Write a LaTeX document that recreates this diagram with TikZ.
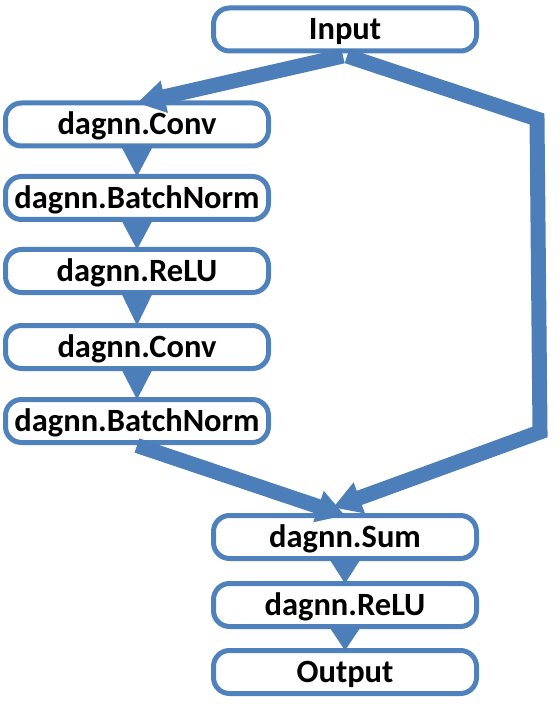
\documentclass[tikz,border=0pt]{standalone}
\usepackage{fontspec}
\setmainfont{Carlito}
\usetikzlibrary{arrows.meta,calc}
\definecolor{boxblue}{RGB}{79,129,189}
\definecolor{arrblue}{RGB}{76,126,186}
\begin{document}
\begin{tikzpicture}[x=1pt,y=-1pt,
  box/.style={draw=boxblue, line width=5pt, fill=white, rounded corners=16pt,
    minimum width=263pt, minimum height=43pt, inner sep=0pt, outer sep=0pt,
    text height=21pt, text depth=0pt,
    font=\fontsize{32.5}{36}\selectfont\bfseries},
  bigarrow/.style={draw=arrblue, line width=15pt, line join=miter,
    -{Triangle[length=28pt,width=31pt]}},
  tri/.style={fill=arrblue}]
\useasboundingbox (0,0) rectangle (559,708);
% nodes
\node[box] (in)    at (345,29.5) {Input};
\node[box] (conv1) at (137,124.5) {dagnn.Conv};
\node[box] (bn1)   at (137,198) {dagnn.BatchNorm};
\node[box] (relu1) at (137,271) {dagnn.ReLU};
\node[box] (conv2) at (137,347) {dagnn.Conv};
\node[box] (bn2)   at (137,421) {dagnn.BatchNorm};
\node[box] (sum)   at (345,537) {dagnn.Sum};
\node[box] (relu2) at (345,605) {dagnn.ReLU};
\node[box] (out)   at (345,672) {Output};
% small triangles
\foreach \a/\b in {conv1/bn1, bn1/relu1, relu1/conv2, conv2/bn2, sum/relu2, relu2/out}{
  \fill[tri] ($(\a.south)+(-16,0)$) -- ($(\a.south)+(16,0)$) -- (\b.north) -- cycle;
}
% corner coordinates of the skip path
\coordinate (c1) at (537,119);
\coordinate (c2) at (540,432);
% big arrows
\draw[bigarrow] ($(in.south)+(-2,5)$) -- (conv1.north);
\draw[bigarrow] ($(in.south)+(2,5)$) -- (c1) -- (c2) -- ($(sum.north)+(-12,-8)$);
\draw[bigarrow] ($(bn2.south)+(0,3)$) -- (sum.north);
\end{tikzpicture}
\end{document}
